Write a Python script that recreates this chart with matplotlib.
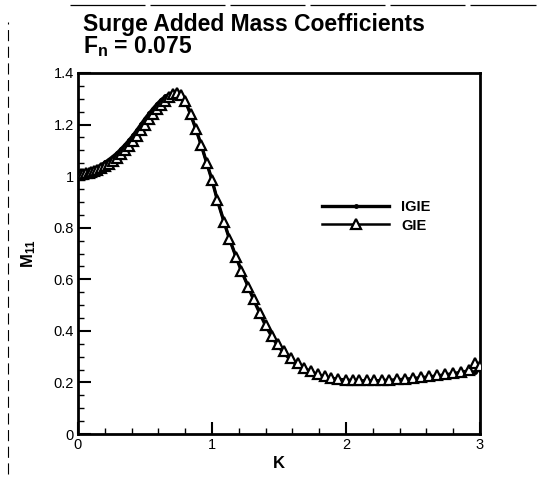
import matplotlib
matplotlib.use("Agg")
import matplotlib.pyplot as plt
from matplotlib.ticker import MultipleLocator
from matplotlib.lines import Line2D

plt.rcParams['font.family'] = ['Liberation Sans', 'DejaVu Sans']
plt.rcParams['mathtext.fontset'] = 'custom'
plt.rcParams['mathtext.rm'] = 'Liberation Sans'
plt.rcParams['mathtext.bf'] = 'Liberation Sans:bold'
plt.rcParams['mathtext.it'] = 'Liberation Sans:italic'

# ---- data ----
K = [0.00, 0.01, 0.02, 0.04, 0.06, 0.08, 0.10, 0.12, 0.14, 0.17, 0.20, 0.23,
     0.26, 0.29, 0.32, 0.35, 0.38, 0.41, 0.44, 0.47, 0.50, 0.53, 0.56, 0.59,
     0.62, 0.65, 0.68, 0.71, 0.74, 0.77, 0.80,
     0.84, 0.88, 0.92, 0.96, 1.00, 1.04, 1.09, 1.13, 1.18, 1.22, 1.27, 1.31,
     1.36, 1.40, 1.45, 1.49, 1.54, 1.59, 1.64, 1.69, 1.74, 1.79, 1.84, 1.89,
     1.94, 2.00, 2.05, 2.10, 2.16, 2.21, 2.27, 2.32, 2.38, 2.44, 2.50, 2.56,
     2.62, 2.68, 2.74, 2.80, 2.86, 2.92, 2.96, 3.00]

M_GIE = [1.005, 1.006, 1.007, 1.009, 1.011, 1.013, 1.016, 1.019, 1.023, 1.030,
         1.038, 1.048, 1.059, 1.071, 1.086, 1.101, 1.118, 1.136, 1.156, 1.178,
         1.200, 1.221, 1.240, 1.259, 1.277, 1.293, 1.306, 1.317, 1.321, 1.314,
         1.292,
         1.240, 1.182, 1.120, 1.052, 0.985, 0.907,
         0.822, 0.757, 0.686, 0.632, 0.572, 0.523, 0.468, 0.424, 0.380, 0.350,
         0.320, 0.295, 0.274, 0.257, 0.243, 0.232, 0.224, 0.218, 0.214, 0.211,
         0.209, 0.208, 0.208, 0.208, 0.209, 0.210, 0.212, 0.214, 0.217, 0.220,
         0.223, 0.227, 0.231, 0.236, 0.241, 0.247, 0.275, 0.265]

M_IGIE = [1.010, 1.011, 1.013, 1.016, 1.019, 1.022, 1.026, 1.030, 1.035, 1.043,
          1.053, 1.064, 1.076, 1.089, 1.105, 1.121, 1.139, 1.158, 1.179, 1.201,
          1.223, 1.243, 1.262, 1.280, 1.296, 1.309, 1.318, 1.325, 1.326, 1.316,
          1.293,
          1.240, 1.182, 1.120, 1.052, 0.985, 0.907,
          0.822, 0.757, 0.686, 0.632, 0.572, 0.521, 0.465, 0.420, 0.375, 0.343,
          0.312, 0.286, 0.264, 0.247, 0.233, 0.222, 0.214, 0.208, 0.204, 0.201,
          0.199, 0.198, 0.198, 0.198, 0.199, 0.200, 0.202, 0.204, 0.207, 0.210,
          0.213, 0.217, 0.221, 0.226, 0.231, 0.236, 0.242, 0.248]

series_names = ["IGIE", "GIE"]
title_line1 = "Surge Added Mass Coefficients"
title_line2 = r"F$_{\mathbf{n}}$ = 0.075"

# ---- figure ----
fig = plt.figure(figsize=(5.39, 4.84), dpi=100)
ax = fig.add_axes([78/539, 1-434/484, (480-78)/539, (434-73)/484])

ax.plot(K, M_IGIE, color='black', lw=2.4, marker='o', ms=2.5, zorder=3,
        label=series_names[0])
ax.plot(K, M_GIE, color='black', lw=1.8, marker='^', ms=6.5, mfc='white',
        mec='black', mew=1.6, zorder=4, label=series_names[1])

ax.set_xlim(0, 3)
ax.set_ylim(0, 1.4)
ax.xaxis.set_minor_locator(MultipleLocator(0.2))
ax.yaxis.set_minor_locator(MultipleLocator(0.05))
ax.set_xticks([0, 1, 2, 3])
ax.set_xticklabels(['0', '1', '2', '3'])
ax.set_yticks([0, 0.2, 0.4, 0.6, 0.8, 1.0, 1.2, 1.4])
ax.set_yticklabels(['0', '0.2', '0.4', '0.6', '0.8', '1', '1.2', '1.4'])
ax.tick_params(which='major', direction='in', length=9, width=1.5,
               labelsize=10.5, top=False, right=False, pad=3)
ax.tick_params(which='minor', direction='in', length=4.5, width=1.0,
               top=False, right=False)
for s in ax.spines.values():
    s.set_linewidth(2.0)

ax.set_xlabel('K', fontsize=12, fontweight='bold', labelpad=3)
ax.set_ylabel(r'$\mathbf{M_{11}}$', fontsize=12, labelpad=11)

leg = ax.legend(loc='center left', bbox_to_anchor=(0.575, 0.603),
                frameon=False, handlelength=4.6,
                handletextpad=0.8, labelspacing=0.3, numpoints=1,
                prop={'weight': 'bold', 'size': 10.5})

fig.text(83/539, 1-13/484, title_line1, fontsize=16.5, fontweight='bold',
         ha='left', va='top')
fig.text(83/539, 1-34/484, title_line2, fontsize=16.5, fontweight='bold',
         ha='left', va='top')

# scan edge artifacts
fig.add_artist(Line2D([8/539, 8/539], [0.02, 0.955], transform=fig.transFigure,
                      color='black', lw=0.8, ls=(0, (10, 5))))
fig.add_artist(Line2D([0.13, 0.995], [1-5/484, 1-5/484], transform=fig.transFigure,
                      color='black', lw=0.9, ls=(0, (60, 4))))

fig.savefig('out.png', dpi=100)
